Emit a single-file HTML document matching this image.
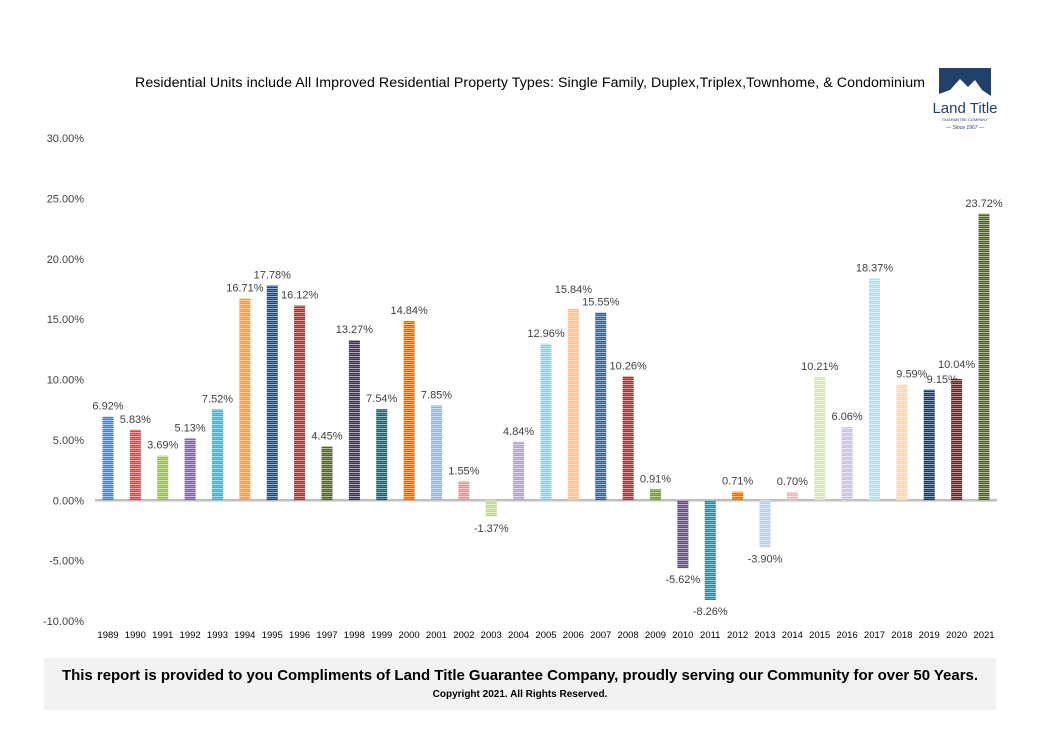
<!DOCTYPE html>
<html><head><meta charset="utf-8"><style>
body{margin:0;width:1039px;height:745px;background:#fff;overflow:hidden;font-family:"Liberation Sans",sans-serif}
svg{position:absolute;left:0;top:0}
</style></head><body>
<svg width="1039" height="745" xmlns="http://www.w3.org/2000/svg">
<defs>
<pattern id="stripes" width="4" height="4" patternUnits="userSpaceOnUse">
<rect x="0" y="0" width="4" height="1" fill="#fff" opacity="0.6"/>
<rect x="0" y="2" width="4" height="1" fill="#fff" opacity="0.3"/>
</pattern>
</defs>
<text x="135" y="87" font-size="14.2" fill="#000" textLength="790">Residential Units include All Improved Residential Property Types: Single Family, Duplex,Triplex,Townhome, &amp; Condominium</text>
<g>
<path d="M939 68 L991 68 L991 96 L982 90 L975 80 L968 87 L960 79 L950 90 L939 94 Z" fill="#23406b"/>
<text x="965" y="113" font-size="15" text-anchor="middle" font-family="Liberation Sans Narrow,Liberation Sans,sans-serif" fill="#23406b">Land Title</text>
<text x="965" y="121" font-size="4" text-anchor="middle" fill="#23406b">GUARANTEE COMPANY</text>
<text x="965" y="129" font-size="5" text-anchor="middle" font-style="italic" fill="#23406b">— Since 1967 —</text>
</g>
<g id="axes"></g>
<g id="bars"></g>
<rect x="44" y="658" width="952" height="52" fill="#f2f2f2"/>
<text x="520" y="680" font-size="15" font-weight="bold" text-anchor="middle" fill="#000" textLength="916">This report is provided to you Compliments of Land Title Guarantee Company, proudly serving our Community for  over 50 Years.</text>
<text x="520" y="697" font-size="10" font-weight="bold" text-anchor="middle" fill="#000">Copyright 2021.  All Rights Reserved.</text>
</svg>
<script>
const years=[1989,1990,1991,1992,1993,1994,1995,1996,1997,1998,1999,2000,2001,2002,2003,2004,2005,2006,2007,2008,2009,2010,2011,2012,2013,2014,2015,2016,2017,2018,2019,2020,2021];
const values=[6.92,5.83,3.69,5.13,7.52,16.71,17.78,16.12,4.45,13.27,7.54,14.84,7.85,1.55,-1.37,4.84,12.96,15.84,15.55,10.26,0.91,-5.62,-8.26,0.71,-3.90,0.70,10.21,6.06,18.37,9.59,9.15,10.04,23.72];
const yTicks=[30,25,20,15,10,5,0,-5,-10];
const colors=["#4f81bd","#c0504d","#9bbb59","#8064a2","#4bacc6","#f79646","#1f497d","#943634","#4f6228","#3f3151","#215968","#e36c09","#95b3d7","#d99694","#c3d69b","#b2a2c7","#92cddc","#fac08f","#366092","#953735","#77933c","#604a7b","#31859c","#e46c0a","#b9cde5","#e6b9b8","#d7e4bd","#ccc1da","#b7dee8","#fcd5b5","#17375e","#632523","#4f6228"];
const NS="http://www.w3.org/2000/svg";
const y=v=>500.25-v*12.075;
const x=i=>108+i*27.375;
const axes=document.getElementById('axes'),bars=document.getElementById('bars');
function mk(tag,attrs,parent,txt){const e=document.createElementNS(NS,tag);for(const k in attrs)e.setAttribute(k,attrs[k]);if(txt!==undefined)e.textContent=txt;parent.appendChild(e);return e;}
yTicks.forEach(t=>{
 const e=mk('text',{x:84,y:y(t)+4,'font-size':11,'text-anchor':'end',fill:'#404040'},axes,t.toFixed(2)+'%');
 
 
});
years.forEach((yr,i)=>{
 const e=mk('text',{x:x(i),y:638,'font-size':9.5,'text-anchor':'middle',fill:'#000'},axes,yr);
 
 
});
values.forEach((v,i)=>{
 const top=Math.min(y(v),y(0)),h=Math.abs(y(v)-y(0));
 const g=mk('g',{},bars);
 
 
 mk('rect',{x:x(i)-5.5,y:top,width:11,height:h,fill:colors[i]},g);
 mk('rect',{x:x(i)-5.5,y:top,width:11,height:h,fill:'url(#stripes)'},g);
 let ly=v>=0?y(v)-7:y(v)+15, lx=x(i);
 if(years[i]===2006) ly-=9;
 if(years[i]===2018) lx+=10;
 if(years[i]===2019) lx+=13;
 if(years[i]===2020) ly-=4;
 const t=mk('text',{x:lx,y:ly,'font-size':11,'text-anchor':'middle',fill:'#404040'},bars,v.toFixed(2)+'%');
 
 
});
const ax=mk('line',{x1:95,x2:997,y1:y(0),y2:y(0),stroke:'#bfbfbf','stroke-width':2.5},axes);


</script>
</body></html>
